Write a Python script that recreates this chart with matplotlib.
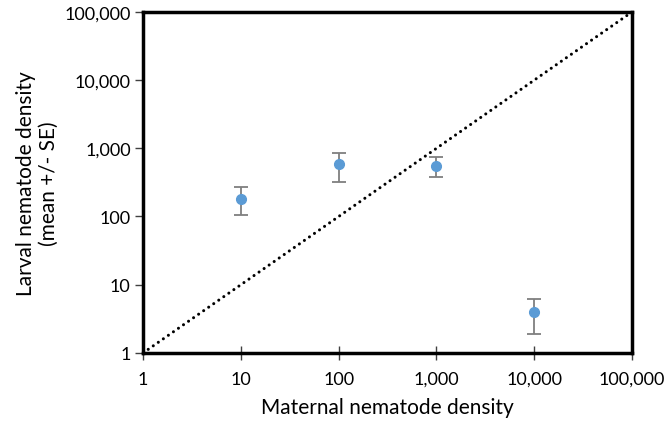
import matplotlib.pyplot as plt
from matplotlib.ticker import FixedLocator, FuncFormatter, NullLocator

plt.rcParams['font.family'] = ['Lato', 'DejaVu Sans']

# data
maternal = [10, 100, 1000, 10000]
larval_mean = [180, 585, 550, 4.0]
err_low = [75, 265, 175, 2.1]
err_high = [90, 265, 190, 2.2]
decades = [1, 10, 100, 1000, 10000, 100000]

fig, ax = plt.subplots(figsize=(6.66, 4.31), dpi=100)
fig.subplots_adjust(left=0.215, right=0.949, top=0.97, bottom=0.179)

ax.plot([1, 100000], [1, 100000], linestyle=(0, (0.01, 2.0)), color="black",
        linewidth=2.2, dash_capstyle="round")
ax.errorbar(maternal, larval_mean, yerr=[err_low, err_high], fmt="o",
            color="#5b9bd5", markersize=7, ecolor="#7f7f7f", elinewidth=1.3,
            capsize=5, capthick=1.3, zorder=3)

ax.set_xscale("log")
ax.set_yscale("log")
ax.set_xlim(1, 100000)
ax.set_ylim(1, 100000)
fmt = FuncFormatter(lambda v, p: f"{int(round(v)):,}")
for axis in (ax.xaxis, ax.yaxis):
    axis.set_major_locator(FixedLocator(decades))
    axis.set_minor_locator(NullLocator())
    axis.set_major_formatter(fmt)

for s in ax.spines.values():
    s.set_linewidth(2.5)
ax.tick_params(axis="x", direction="inout", length=10, width=1, color="#404040",
               labelsize=13, pad=8)
ax.tick_params(axis="y", direction="out", length=6, width=1, color="#404040",
               labelsize=13, pad=3)

ax.set_xlabel("Maternal nematode density", fontsize=15, labelpad=7)
ax.set_ylabel("Larval nematode density\n(mean +/- SE)", fontsize=15, labelpad=4)

fig.savefig("out.png")
